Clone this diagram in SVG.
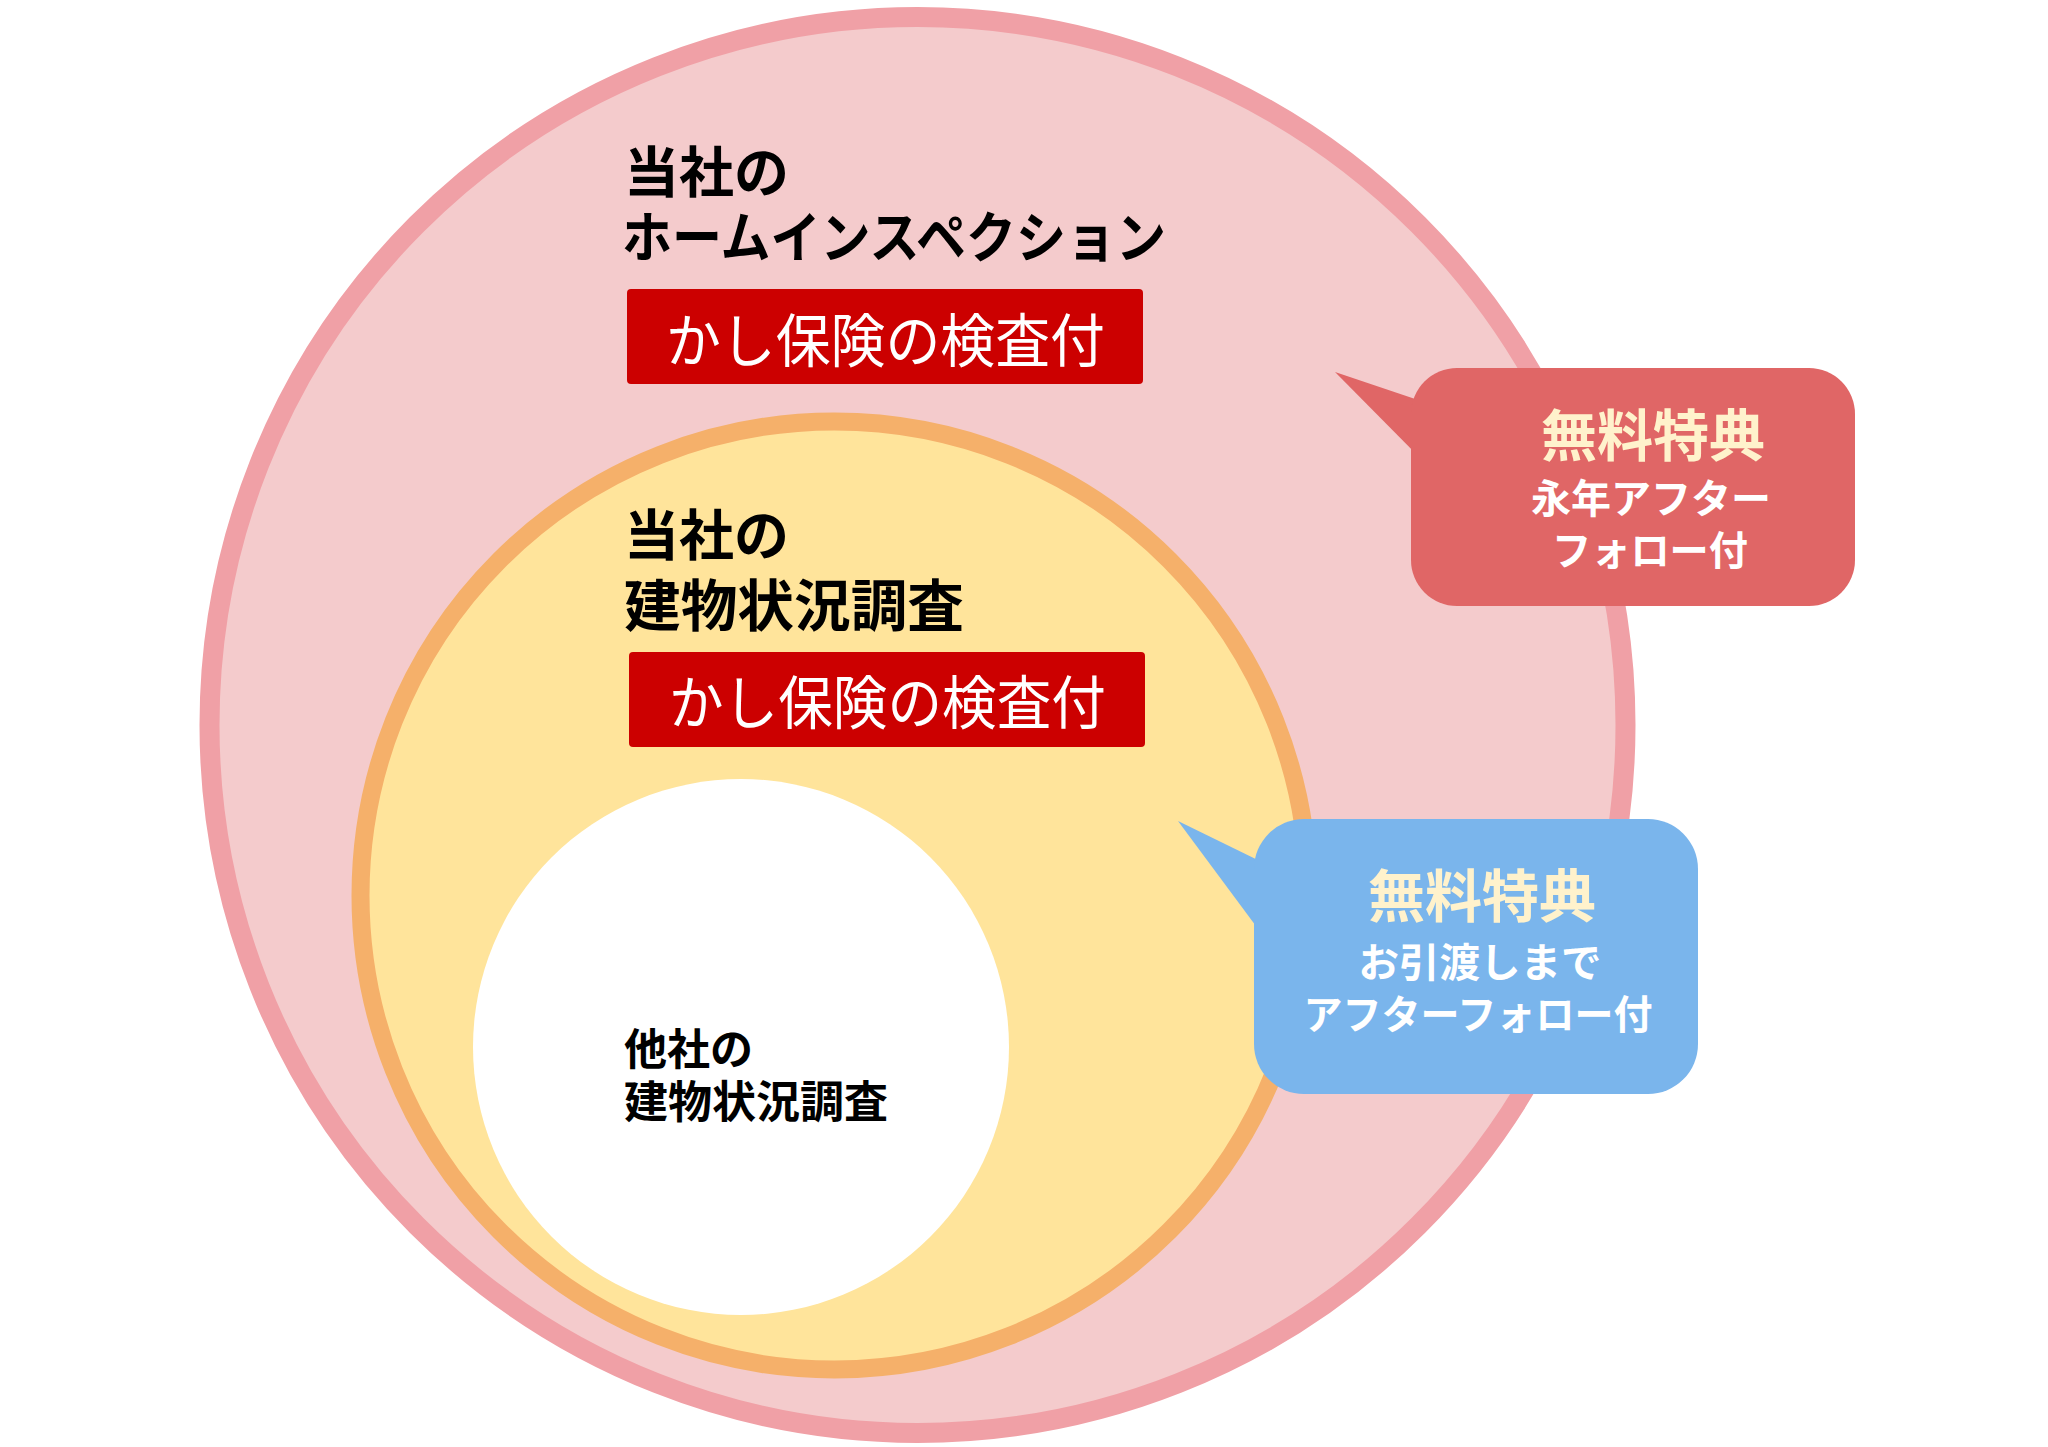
<svg xmlns="http://www.w3.org/2000/svg" width="2048" height="1447" viewBox="0 0 2048 1447">
<style>
.t{font-family:"Noto Sans CJK JP","Noto Sans CJK SC",sans-serif;font-weight:700;fill:#000}
.w{font-family:"Noto Sans CJK JP","Noto Sans CJK SC",sans-serif;font-weight:400;fill:#fff}
.cr{font-family:"Noto Sans CJK JP","Noto Sans CJK SC",sans-serif;font-weight:700;fill:#FFF2CC}
.cw{font-family:"Noto Sans CJK JP","Noto Sans CJK SC",sans-serif;font-weight:700;fill:#fff}
.box{fill:#CC0000}
</style>
<rect width="2048" height="1447" fill="#fff"/>
<g id="outer">
<circle cx="917.5" cy="725" r="708" fill="#F4CBCC" stroke="#F0A0A6" stroke-width="20"/>
<text class="t" x="624" y="192" font-size="55">当社の</text>
<text class="t" x="622" y="257" font-size="55" textLength="544" lengthAdjust="spacingAndGlyphs">ホームインスペクション</text>
<rect class="box" x="627" y="289" width="516" height="95" rx="4"/>
<text class="w" x="666" y="362" font-size="58" textLength="439" lengthAdjust="spacingAndGlyphs">かし保険の検査付</text>
</g>
<g id="middle">
<circle cx="834.5" cy="895.5" r="474" fill="#FFE49B" stroke="#F5B06A" stroke-width="18"/>
<text class="t" x="624" y="555" font-size="55">当社の</text>
<text class="t" x="624" y="626" font-size="56" textLength="340" lengthAdjust="spacingAndGlyphs">建物状況調査</text>
<rect class="box" x="629" y="652" width="516" height="95" rx="4"/>
<text class="w" x="669" y="724" font-size="58" textLength="437" lengthAdjust="spacingAndGlyphs">かし保険の検査付</text>
</g>
<g id="inner">
<circle cx="741" cy="1047" r="268" fill="#fff"/>
<text class="t" x="624" y="1065" font-size="43">他社の</text>
<text class="t" x="624" y="1118" font-size="44" textLength="264" lengthAdjust="spacingAndGlyphs">建物状況調査</text>
</g>
<g id="callout-red">
<polygon points="1335,372 1430,404 1430,468" fill="#E06666"/>
<rect x="1411" y="368" width="444" height="238" rx="46" fill="#E06666"/>
<text class="cr" x="1653" y="456" font-size="56" text-anchor="middle">無料特典</text>
<text class="cw" x="1651" y="513" font-size="40" text-anchor="middle" textLength="240" lengthAdjust="spacingAndGlyphs">永年アフター</text>
<text class="cw" x="1650" y="565" font-size="40" text-anchor="middle" textLength="196" lengthAdjust="spacingAndGlyphs">フォロー付</text>
</g>
<g id="callout-blue">
<polygon points="1178,821 1270,866 1270,945" fill="#7AB5EC"/>
<rect x="1254" y="819" width="444" height="275" rx="50" fill="#7AB5EC"/>
<text class="cr" x="1482" y="917" font-size="57" text-anchor="middle">無料特典</text>
<text class="cw" x="1480" y="977" font-size="40" text-anchor="middle" textLength="243" lengthAdjust="spacingAndGlyphs">お引渡しまで</text>
<text class="cw" x="1478" y="1029" font-size="40" text-anchor="middle" textLength="349" lengthAdjust="spacingAndGlyphs">アフターフォロー付</text>
</g>
<g id="connectors"></g>
</svg>
